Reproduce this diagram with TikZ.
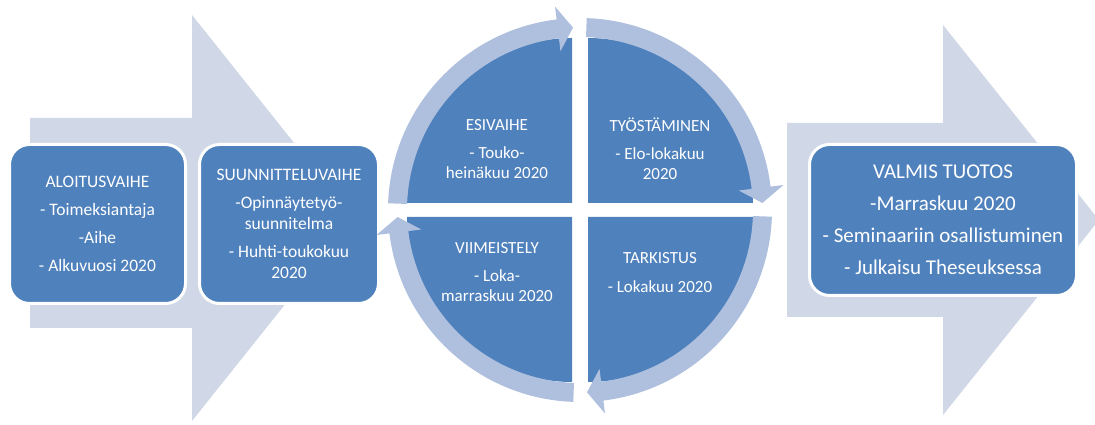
\documentclass[tikz,border=0pt]{standalone}
\usepackage{fontspec}
\setmainfont{Carlito}
\usetikzlibrary{calc}
\definecolor{mainblue}{HTML}{4F81BD}
\definecolor{ringblue}{HTML}{AFC0DF}
\definecolor{paleblue}{HTML}{D0D8E8}
\begin{document}
\begin{tikzpicture}[x=1pt,y=1pt,
  bigarrow/.style={fill=paleblue},
  stagebox/.style={rounded corners=20pt, fill=mainblue, draw=white, line width=3pt, text=white, align=center, inner sep=0pt},
  quad/.style={fill=mainblue},
  ringarrow/.style={fill=ringblue},
  lbl/.style={text=white, align=center, font=\fontsize{17}{20}\selectfont, inner sep=0pt},
]
\useasboundingbox (0,0) rectangle (1095,425);
% big background arrows
\fill[bigarrow] (30,307) -- (192,307) -- (192,410) -- (354,207) -- (192,4) -- (192,97) -- (30,97) -- cycle;
\fill[bigarrow] (787,302) -- (943,302) -- (943,400) -- (1099,205) -- (943,10) -- (943,108) -- (787,108) -- cycle;
% stage boxes
\node[stagebox, minimum width=176pt, minimum height=159pt, font=\fontsize{17.5}{21}\selectfont] (aloitus) at (97.5,201)
  {ALOITUSVAIHE\\[7pt]- Toimeksiantaja\\[7pt]-Aihe\\[7pt]- Alkuvuosi 2020};
\node[stagebox, minimum width=179pt, minimum height=159pt, font=\fontsize{17.5}{21}\selectfont] (suunnittelu) at (289,201)
  {SUUNNITTELUVAIHE\\[7pt]-Opinnäytetyö-\\suunnitelma\\[7pt]- Huhti-toukokuu\\2020};
\node[stagebox, minimum width=267pt, minimum height=151pt, font=\fontsize{21}{32}\selectfont] (valmis) at (943,205)
  {VALMIS TUOTOS\\-Marraskuu 2020\\- Seminaariin osallistuminen\\- Julkaisu Theseuksessa};
% cycle quadrants
\coordinate (C) at (580,215);
\fill[quad] (572,222) -- ++(0,165) arc[start angle=90,end angle=180,radius=165pt] -- cycle;
\fill[quad] (588,222) -- ++(165,0) arc[start angle=0,end angle=90,radius=165pt] -- cycle;
\fill[quad] (588,208) -- ++(0,-165) arc[start angle=270,end angle=360,radius=165pt] -- cycle;
\fill[quad] (572,208) -- ++(-165,0) arc[start angle=180,end angle=270,radius=165pt] -- cycle;
% ring arrows
\foreach \s/\b/\t in {178/97/92.2, 88/7/2.2, -2/-83/-87.8, -92/-173/-177.8} {
  \fill[ringarrow] ($(C)+(\s:192pt)$) arc[start angle=\s, end angle=\b, radius=192pt]
    -- ($(C)+(\b:205pt)$) -- ($(C)+(\t:182.5pt)$) -- ($(C)+(\b:160pt)$)
    -- ($(C)+(\b:173pt)$) arc[start angle=\b, end angle=\s, radius=173pt] -- cycle;
}
% quadrant labels
\node[lbl] (esivaihe) at (497,276) {ESIVAIHE\\[8pt]- Touko-\\heinäkuu 2020};
\node[lbl] (tyostaminen) at (660,276) {TYÖSTÄMINEN\\[8pt]- Elo-lokakuu\\2020};
\node[lbl] (viimeistely) at (497,153) {VIIMEISTELY\\[8pt]- Loka-\\marraskuu 2020};
\node[lbl] (tarkistus) at (660,152.5) {TARKISTUS\\[9pt]- Lokakuu 2020};
\end{tikzpicture}
\end{document}
